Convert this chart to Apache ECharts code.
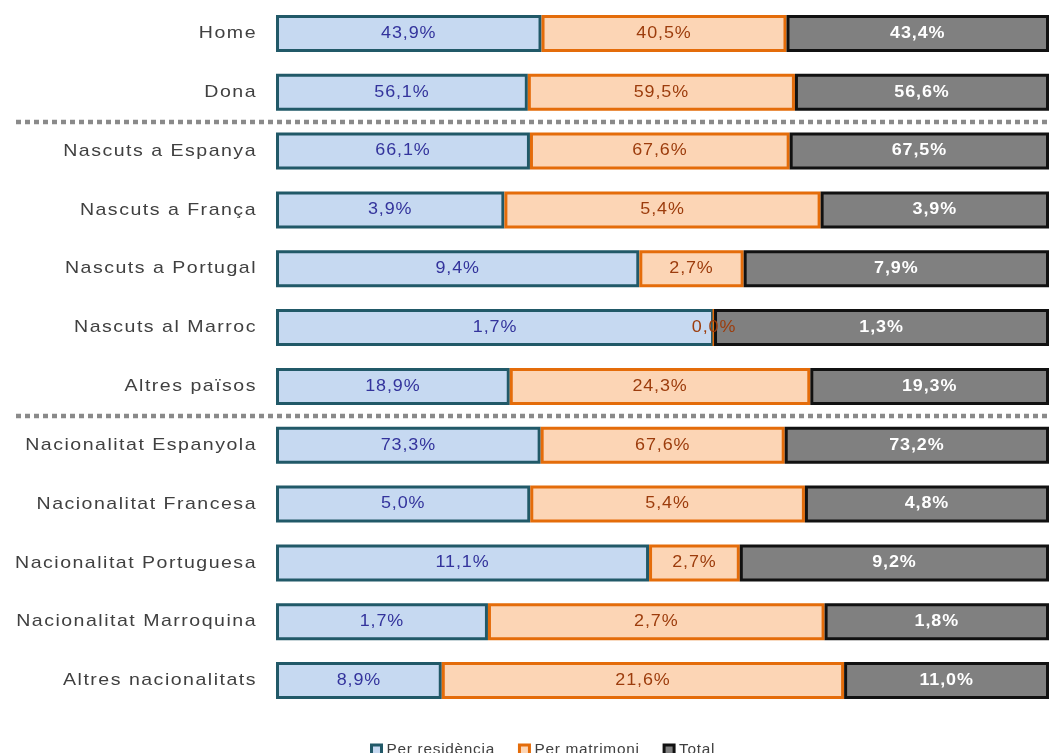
<!DOCTYPE html>
<html>
<head>
<meta charset="utf-8">
<script src="https://cdn.jsdelivr.net/npm/echarts@6/dist/echarts.min.js"></script>
<style>
  html, body { margin: 0; padding: 0; background: #fff; }
  #chart { width: 1051px; height: 753px; }
</style>
</head>
<body>
<div id="chart"></div>
<script>
var categories = ['Home', 'Dona', 'Nascuts a Espanya', 'Nascuts a França', 'Nascuts a Portugal',
	'Nascuts al Marroc', 'Altres països', 'Nacionalitat Espanyola', 'Nacionalitat Francesa',
	'Nacionalitat Portuguesa', 'Nacionalitat Marroquina', 'Altres nacionalitats'];
var perResidencia = [43.9, 56.1, 66.1, 3.9, 9.4, 1.7, 18.9, 73.3, 5.0, 11.1, 1.7, 8.9];
var perMatrimoni = [40.5, 59.5, 67.6, 5.4, 2.7, 0.0, 24.3, 67.6, 5.4, 2.7, 2.7, 21.6];
var total = [43.4, 56.6, 67.5, 3.9, 7.9, 1.3, 19.3, 73.2, 4.8, 9.2, 1.8, 11.0];
// separadors després d'aquests índexs
var separators = [1, 6];

var seriesNames = ['Per residència', 'Per matrimoni', 'Total'];
var seriesData = [perResidencia, perMatrimoni, total];

// el text de l'original surt més ample i espaiat: una mica d'escala i letterSpacing
function textLook(font) {
	var m = /(\d+(?:\.\d+)?)px/.exec(font);
	var size = m ? parseFloat(m[1]) : 12;
	if (size >= 17) return { s: 1.15, ls: 1.3 };
	if (size >= 16) return { s: 1.12, ls: 0.8 };
	return { s: 1.1, ls: 0.65 };
}
var P = CanvasRenderingContext2D.prototype;
var origFill = P.fillText, origStroke = P.strokeText, origMeasure = P.measureText;
function setSpacing(ctx, t) {
	if ('letterSpacing' in ctx) ctx.letterSpacing = t.ls + 'px';
}
P.fillText = function (text, x, y) {
	var t = textLook(this.font);
	this.save();
	setSpacing(this, t);
	this.translate(x, y);
	this.scale(t.s, 1);
	origFill.call(this, text, 0, 0);
	this.restore();
};
P.strokeText = function (text, x, y) {
	var t = textLook(this.font);
	this.save();
	setSpacing(this, t);
	this.translate(x, y);
	this.scale(t.s, 1);
	origStroke.call(this, text, 0, 0);
	this.restore();
};
P.measureText = function (text) {
	var t = textLook(this.font);
	setSpacing(this, t);
	var m = origMeasure.call(this, text);
	return {
		width: m.width * t.s,
		actualBoundingBoxAscent: m.actualBoundingBoxAscent,
		actualBoundingBoxDescent: m.actualBoundingBoxDescent,
		actualBoundingBoxLeft: m.actualBoundingBoxLeft * t.s,
		actualBoundingBoxRight: m.actualBoundingBoxRight * t.s,
		fontBoundingBoxAscent: m.fontBoundingBoxAscent,
		fontBoundingBoxDescent: m.fontBoundingBoxDescent
	};
};

// cada fila es representa com a 100% apilat
function shares(arr) {
	return arr.map(function (v, i) {
		var s = perResidencia[i] + perMatrimoni[i] + total[i];
		return { value: v / s * 100, raw: v };
	});
}

function fmt(p) {
	return p.data.raw.toFixed(1).replace('.', ',') + '%';
}

var styles = [
	{ fill: '#c6d9f1', border: '#215968', label: '#33339c', weight: 'normal' },
	{ fill: '#fcd5b5', border: '#e46c0a', label: '#9c3c0c', weight: 'normal' },
	{ fill: '#808080', border: '#111111', label: '#ffffff', weight: 'bold' }
];

var chart = echarts.init(document.getElementById('chart'));

var option = {
	animation: false,
	grid: { left: 276, right: 2, top: 4, height: 706 },
	legend: {
		top: 737,
		left: 365,
		icon: 'rect',
		itemWidth: 10,
		itemHeight: 10,
		itemGap: 23,
		itemStyle: { borderWidth: 3 },
		textStyle: { fontSize: 14, color: '#404040', fontFamily: 'Liberation Sans' },
		data: seriesNames
	},
	xAxis: { type: 'value', min: 0, max: 100, show: false },
	yAxis: {
		type: 'category',
		inverse: true,
		data: categories,
		axisLine: { show: false },
		axisTick: { show: false },
		axisLabel: { fontSize: 17, color: '#404040', margin: 19, fontFamily: 'Liberation Sans' }
	},
	series: seriesNames.map(function (name, k) {
		return {
			name: name,
			type: 'bar',
			stack: 'all',
			barWidth: 37,
			data: shares(seriesData[k]),
			itemStyle: { color: styles[k].fill, borderColor: styles[k].border, borderWidth: 3 },
			label: {
				show: true,
				position: 'inside',
				formatter: fmt,
				fontSize: 16,
				color: styles[k].label,
				fontWeight: styles[k].weight,
				fontFamily: 'Liberation Sans'
			}
		};
	})
};

chart.setOption(option);

// línies de punts entre grups
var lines = separators.map(function (i) {
	var y1 = chart.convertToPixel({ yAxisIndex: 0 }, categories[i]);
	var y2 = chart.convertToPixel({ yAxisIndex: 0 }, categories[i + 1]);
	var y = Math.round((y1 + y2) / 2);
	return {
		type: 'line',
		shape: { x1: 16, y1: y, x2: 1051, y2: y },
		style: { stroke: '#8a8a8a', lineWidth: 4.5, lineDash: [5, 4] }
	};
});
chart.setOption({ graphic: lines });
</script>
</body>
</html>
